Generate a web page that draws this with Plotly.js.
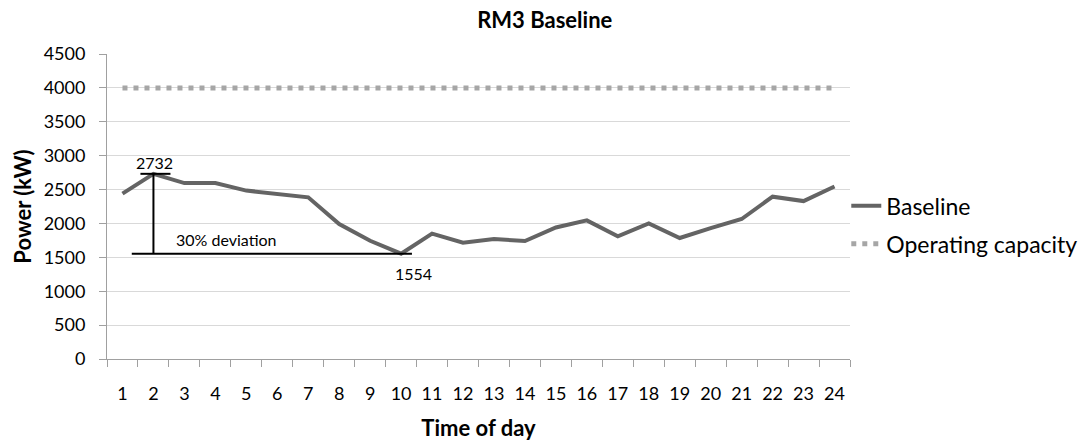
<!DOCTYPE html>
<html>
<head>
<meta charset="utf-8">
<script src="https://cdn.plot.ly/plotly-3.0.1.min.js"></script>
<style>html,body{margin:0;padding:0;background:#fff;}#chart{width:1083px;height:444px;}</style>
</head>
<body>
<div id="chart"></div>
<script>
// ---- data ----
const hours = [1,2,3,4,5,6,7,8,9,10,11,12,13,14,15,16,17,18,19,20,21,22,23,24];
const baseline = [2440,2732,2595,2595,2485,2435,2385,1990,1745,1554,1850,1715,1770,1740,1940,2045,1810,2000,1785,1930,2065,2395,2330,2545];
const operatingCapacity = [4000,4000,4000,4000,4000,4000,4000,4000,4000,4000,4000,4000,4000,4000,4000,4000,4000,4000,4000,4000,4000,4000,4000,4000];
const yTicks = [0,500,1000,1500,2000,2500,3000,3500,4000,4500];
const peakHour = 2, peakValue = 2732;
const lowHour = 10, lowValue = 1554;
const deviationLabel = "30% deviation";

const FONT = "Lato, 'Open Sans', sans-serif";

const traces = [
  {x: hours, y: baseline, name: "Baseline", type: "scatter", mode: "lines", legendgroup: "a",
   line: {color: "#646464", width: 4}},
  {x: hours, y: operatingCapacity, name: "Operating capacity", type: "scatter", mode: "lines", legendgroup: "b",
   line: {color: "#a6a6a6", width: 5, dash: "5px,6px"}}
];

const shapes = [
  {type: "line", xref: "x", yref: "y", x0: peakHour, x1: peakHour, y0: lowValue, y1: peakValue,
   line: {color: "#000", width: 2}},
  {type: "line", xref: "x", yref: "y", x0: peakHour - 0.42, x1: peakHour + 0.55, y0: peakValue, y1: peakValue,
   line: {color: "#000", width: 2}},
  {type: "line", xref: "x", yref: "y", x0: 1.3, x1: lowHour + 0.35, y0: lowValue, y1: lowValue,
   line: {color: "#000", width: 2}}
];

const annotations = [
  {x: peakHour + 0.05, y: peakValue, xref: "x", yref: "y", text: String(peakValue), showarrow: false,
   yanchor: "bottom", yshift: 0, font: {family: FONT, size: 16, color: "#000"}},
  {x: peakHour + 0.65, y: 1770, xref: "x", yref: "y", text: deviationLabel, showarrow: false,
   xanchor: "left", yanchor: "middle", font: {family: FONT, size: 16, color: "#000"}},
  {x: lowHour + 0.4, y: lowValue, xref: "x", yref: "y", text: String(lowValue), showarrow: false,
   yanchor: "top", yshift: -8, font: {family: FONT, size: 16, color: "#000"}}
];

const layout = {
  width: 1083, height: 444,
  margin: {l: 107, r: 233, t: 54, b: 85, autoexpand: false},
  paper_bgcolor: "#fff", plot_bgcolor: "#fff",
  font: {family: FONT, color: "#000"},
  title: {text: "<b>RM3 Baseline</b>", x: 0.503, xref: "container", xanchor: "center",
          y: 0.955, yref: "container", yanchor: "middle",
          font: {family: FONT, size: 22, color: "#000"}},
  xaxis: {
    range: [0.5, 24.5], tickmode: "array", tickvals: hours, ticktext: hours.map(String),
    ticks: "", showgrid: false, zeroline: false,
    showline: true, linecolor: "#a0a0a0", linewidth: 1,
    tickfont: {family: FONT, size: 18, color: "#000"},
    ticklabelstandoff: 18,
    minor: {tickmode: "linear", tick0: 0.5, dtick: 1, ticks: "outside", ticklen: 7, tickcolor: "#a0a0a0", showgrid: false},
    title: {text: "<b>Time of day</b>", font: {family: FONT, size: 22, color: "#000"}, standoff: 18}
  },
  yaxis: {
    range: [0, 4500], tickmode: "array", tickvals: yTicks,
    ticks: "outside", ticklen: 7, tickcolor: "#a0a0a0",
    showgrid: true, gridcolor: "#d9d9d9", gridwidth: 1, zeroline: false,
    showline: true, linecolor: "#a0a0a0", linewidth: 1,
    tickfont: {family: FONT, size: 18, color: "#000"},
    ticklabelstandoff: 10,
    title: {text: "<b>Power (kW)</b>", font: {family: FONT, size: 22, color: "#000"}, standoff: 5}
  },
  legend: {x: 0.995, xanchor: "left", y: 0.44, yanchor: "middle", xref: "paper",
           font: {family: FONT, size: 23, color: "#000"}, itemwidth: 30,
           tracegroupgap: 5, bgcolor: "rgba(0,0,0,0)"},
  showlegend: true,
  shapes: shapes,
  annotations: annotations
};

Plotly.newPlot("chart", traces, layout, {displayModeBar: false, staticPlot: true});
</script>
</body>
</html>
